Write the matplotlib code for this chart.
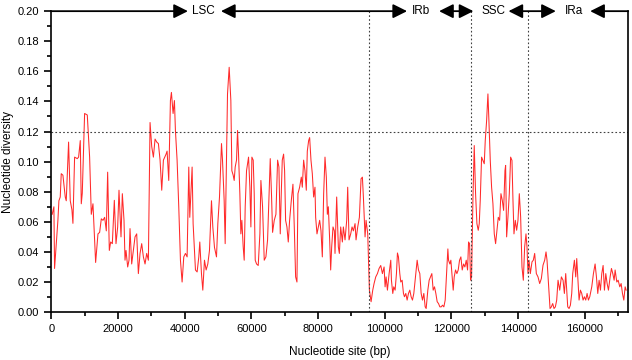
import numpy as np
import matplotlib
matplotlib.use('Agg')
import matplotlib.pyplot as plt
from matplotlib.ticker import MultipleLocator

plt.rcParams['font.family'] = ['Liberation Sans', 'DejaVu Sans']

# sliding window values (site in bp, Pi)
lsc_site = [300, 811, 1011, 2012, 2312, 2713, 3013, 3513, 4214, 4514, 5215, 5716, 6216, 6517, 7017, 7818, 8218,
            8719, 9019, 9319, 10020, 10821, 11522, 12022, 12523, 13323, 14024, 14524, 15025, 15525, 16026, 16526,
            16927, 17427, 17828, 18328, 18929, 19429, 19930, 20330, 20931, 21331, 21832, 22132, 22432, 22933,
            23333, 23634, 24134, 24635, 25135, 25636, 26136, 26637, 27137, 27638, 28138, 28639, 29139, 29640,
            30140, 30641, 31141, 31642, 32142, 32643, 33143, 33644, 34444, 34745, 35245, 35746, 36046, 36546,
            36947, 37247, 37748, 38248, 38749, 39249, 39750, 40250, 40751, 41251, 41551, 41952, 42252, 42552,
            43253, 43754, 44254, 44554, 45055, 45455, 45956, 46456, 46957, 47457, 48058, 48458, 48958, 49559,
            49960, 50460, 51061, 51361, 51862, 52162, 52562, 52863, 53363, 53864, 54164, 54564, 54865, 55165,
            55565, 55866, 56166, 56566, 56867, 57167, 57567, 57868, 58168, 58568, 59169, 59569, 59870, 60170,
            60570, 60871, 61171, 61571, 62072, 62572, 62873, 63373, 63874, 64374, 64875, 65375, 65675, 66076,
            66376, 66877, 67377, 67878, 68278, 68678, 68979, 69279, 69679, 69980, 70280, 70680, 71081, 71481,
            71982, 72482, 72882, 73283, 73683, 73984, 74484, 74985, 75285, 75685, 76086, 76486, 76786, 77187,
            77487, 77887, 78288, 78688, 79089, 79289, 79689, 80090, 80490, 80890, 81291, 81691, 82092, 82492,
            82792, 83093, 83493, 83793, 84094, 84494, 84894, 85095, 85595, 86096, 86396, 86796, 87297, 87597,
            88098, 88598, 88898, 89299, 89799, 90200, 90600, 91101, 91401, 91901, 92402, 92902, 93303, 93603,
            94104, 94404, 94905]
lsc_pi = [0.065, 0.070, 0.029, 0.061, 0.074, 0.0765, 0.092, 0.091, 0.0765, 0.074, 0.113, 0.074, 0.068, 0.059,
          0.103, 0.102, 0.103, 0.114, 0.072, 0.079, 0.132, 0.131, 0.103, 0.065, 0.072, 0.033, 0.052, 0.053, 0.062,
          0.061, 0.063, 0.054, 0.093, 0.041, 0.0466, 0.0455, 0.0743, 0.0455, 0.0566, 0.081, 0.050, 0.0787, 0.061,
          0.0345, 0.041, 0.030, 0.0345, 0.0555, 0.032, 0.041, 0.050, 0.052, 0.0256, 0.039, 0.0455, 0.0367, 0.032,
          0.039, 0.0345, 0.126, 0.110, 0.103, 0.115, 0.113, 0.112, 0.101, 0.081, 0.101, 0.105, 0.107, 0.0875,
          0.1406, 0.146, 0.132, 0.1406, 0.1207, 0.101, 0.070, 0.0345, 0.020, 0.0367, 0.039, 0.0367, 0.0964, 0.063,
          0.083, 0.0964, 0.0588, 0.028, 0.0267, 0.0367, 0.0466, 0.0256, 0.0146, 0.0345, 0.028, 0.032, 0.041, 0.074,
          0.0566, 0.043, 0.0367, 0.0588, 0.0765, 0.112, 0.101, 0.074, 0.0455, 0.101, 0.145, 0.1627, 0.1406, 0.094,
          0.091, 0.0875, 0.0964, 0.101, 0.1207, 0.105, 0.0787, 0.052, 0.061, 0.0433, 0.0345, 0.070, 0.094, 0.103,
          0.083, 0.0566, 0.103, 0.101, 0.0787, 0.0345, 0.032, 0.031, 0.052, 0.0875, 0.070, 0.0345, 0.0367, 0.048,
          0.083, 0.102, 0.0765, 0.053, 0.061, 0.065, 0.101, 0.0964, 0.052, 0.0787, 0.101, 0.105, 0.094, 0.061,
          0.0566, 0.0466, 0.061, 0.074, 0.085, 0.0566, 0.0234, 0.020, 0.0787, 0.083, 0.0897, 0.083, 0.101, 0.094,
          0.081, 0.107, 0.114, 0.116, 0.101, 0.092, 0.0765, 0.083, 0.063, 0.052, 0.0566, 0.061, 0.054, 0.0367,
          0.0787, 0.103, 0.0897, 0.065, 0.070, 0.048, 0.028, 0.0433, 0.0566, 0.054, 0.039, 0.0765, 0.0433, 0.039,
          0.0566, 0.0466, 0.0566, 0.048, 0.061, 0.083, 0.048, 0.052, 0.0566, 0.054, 0.0588, 0.048, 0.0566, 0.063,
          0.0886, 0.0897, 0.0765, 0.050, 0.061, 0.052]

irb_site = [95405, 95905, 96406, 96806, 97307, 97807, 98308, 98808, 99309, 99809, 100110, 100410, 100810, 101311,
            101811, 102012, 102413, 102713, 103113, 103514, 103814, 104114, 104515, 104815, 105216, 105616,
            105916, 106317, 106717, 107117, 107518, 107918, 108319, 108719, 109320, 109720, 110120, 110521,
            110921, 111322, 111722, 112122, 112423, 112923, 113324, 113724, 114124, 114525, 114925, 115326,
            115726, 116126, 116527, 116927, 117328, 117728, 118128, 118529, 118929, 119129, 119530, 119830,
            120130, 120531, 120831, 121231, 121632, 122032, 122433, 122833, 123233, 123634, 124034, 124435,
            124835, 125135, 125436, 125736, 126036]
irb_pi = [0.0146, 0.0069, 0.0146, 0.019, 0.0234, 0.0256, 0.029, 0.031, 0.0256, 0.030, 0.0168, 0.0234, 0.0146,
          0.0256, 0.0345, 0.0212, 0.0124, 0.0168, 0.0146, 0.0256, 0.0393, 0.0367, 0.0256, 0.020, 0.0212, 0.0124,
          0.0102, 0.0124, 0.008, 0.0124, 0.0146, 0.0102, 0.008, 0.0124, 0.0256, 0.0345, 0.028, 0.0256, 0.0124,
          0.008, 0.0124, 0.0035, 0.0024, 0.0146, 0.0212, 0.0234, 0.0256, 0.0146, 0.0168, 0.0124, 0.0069, 0.0057,
          0.0035, 0.0035, 0.0046, 0.0035, 0.008, 0.0256, 0.042, 0.0345, 0.032, 0.0345, 0.0256, 0.0146, 0.0234,
          0.028, 0.0256, 0.028, 0.0345, 0.0367, 0.028, 0.032, 0.030, 0.0345, 0.028, 0.0466, 0.0455, 0.0212, 0.0234]

ssc_site = [126437, 126837, 127237, 127638, 128038, 128339, 128639, 129039, 129440, 129840, 130140, 130541,
            130941, 131241, 131642, 132042, 132443, 132843, 133243, 133644, 134044, 134445, 134845, 135245,
            135646, 136046, 136246, 136547, 136947, 137347, 137748, 138148, 138449, 138749, 139149, 139550,
            139950, 140350, 140751, 141151, 141552, 141952, 142352, 142653]
ssc_pi = [0.0743, 0.1107, 0.0787, 0.0588, 0.0544, 0.0588, 0.0743, 0.103, 0.1008, 0.0986, 0.114, 0.127, 0.145,
          0.127, 0.1008, 0.083, 0.072, 0.052, 0.0455, 0.0544, 0.063, 0.061, 0.0787, 0.0743, 0.0676, 0.094, 0.0975,
          0.050, 0.0632, 0.0787, 0.103, 0.1008, 0.0743, 0.052, 0.061, 0.0544, 0.061, 0.0787, 0.0632, 0.030, 0.0212,
          0.0433, 0.052, 0.0433]

ira_site = [142953, 143253, 143654, 144154, 144554, 144955, 145456, 145956, 146457, 146957, 147458, 147958,
            148358, 148659, 149159, 149560, 149960, 150360, 150761, 151161, 151562, 151962, 152463, 152963,
            153463, 153864, 154264, 154565, 154865, 155265, 155666, 156066, 156366, 156867, 157267, 157568,
            157868, 158268, 158669, 159069, 159469, 159870, 160270, 160671, 161071, 161471, 162072, 162573,
            163073, 163474, 163874, 164274, 164675, 165075, 165475, 165876, 166276, 166677, 167077, 167578,
            167978, 168378, 168779, 169079, 169580, 169980, 170480, 170880, 171281, 171681, 172082, 172382]
ira_pi = [0.0256, 0.0345, 0.0256, 0.0334, 0.0345, 0.039, 0.0256, 0.0234, 0.019, 0.0223, 0.0312, 0.0345, 0.040,
          0.0345, 0.0168, 0.0024, 0.0035, 0.0057, 0.0024, 0.0035, 0.008, 0.0212, 0.0146, 0.0234, 0.0212, 0.0124,
          0.0256, 0.0146, 0.0035, 0.0024, 0.0046, 0.0124, 0.0256, 0.0345, 0.0234, 0.0356, 0.0234, 0.008, 0.0146,
          0.0124, 0.008, 0.0102, 0.008, 0.0124, 0.008, 0.0102, 0.0168, 0.0256, 0.032, 0.0234, 0.0124, 0.0212,
          0.0146, 0.0256, 0.031, 0.0146, 0.0256, 0.019, 0.0146, 0.0234, 0.029, 0.0256, 0.0212, 0.028, 0.020,
          0.0212, 0.0168, 0.019, 0.0124, 0.008, 0.0168, 0.0146]

# region borders and top labels
borders = [95300, 126000, 142900]
regions = ['LSC', 'IRb', 'SSC', 'IRa']
label_x = [45700, 110900, 132600, 156700]
genome_end = 173000
cutoff = 0.12

site = np.concatenate([lsc_site, irb_site, ssc_site, ira_site])
pi = np.concatenate([lsc_pi, irb_pi, ssc_pi, ira_pi])

fig = plt.figure(figsize=(6.32, 3.6), dpi=100)
ax = fig.add_axes([0.081, 0.133, 0.913, 0.836])

ax.plot(site, pi, color='#ff2a2a', lw=0.75)

ax.axhline(cutoff, color='0.25', ls=(0, (1.5, 2)), lw=0.8)
for b in borders:
    ax.axvline(b, color='0.25', ls=(0, (1.5, 2)), lw=0.8)

ax.set_xlim(0, genome_end)
ax.set_ylim(0, 0.2)
ax.spines['top'].set_visible(False)
for s in ['left', 'bottom', 'right']:
    ax.spines[s].set_linewidth(1.2)
ax.xaxis.set_major_locator(MultipleLocator(20000))
ax.xaxis.set_minor_locator(MultipleLocator(10000))
ax.yaxis.set_major_locator(MultipleLocator(0.02))
ax.yaxis.set_minor_locator(MultipleLocator(0.01))
ax.yaxis.set_major_formatter(lambda v, p: '%.2f' % v)
ax.tick_params(which='major', length=5, width=1.2, labelsize=8, direction='out')
ax.tick_params(which='minor', length=3, width=1.2, direction='out')
ax.tick_params(axis='y', which='both', right=False)

ax.set_xlabel('Nucleotide site (bp)', fontsize=8.5, labelpad=9)
ax.set_ylabel('Nucleotide diversity', fontsize=8.5, labelpad=3)

# arrows along the top
head = dict(color='k', lw=1.3, shrinkA=0, shrinkB=0, mutation_scale=17)
arrows = [(0, 41000, '-|>'), (50900, 106700, '<|-|>'), (116300, 126600, '<|-|>'),
          (137100, 151300, '<|-|>'), (genome_end, 161600, '-|>')]
for x0, x1, st in arrows:
    ax.annotate('', xy=(x1, 0.2), xytext=(x0, 0.2), annotation_clip=False,
                arrowprops=dict(arrowstyle=st + ',head_length=0.5,head_width=0.25', **head))
for lx, name in zip(label_x, regions):
    ax.text(lx, 0.2, name, ha='center', va='center', fontsize=8.5)

plt.savefig('out.png', dpi=100)
